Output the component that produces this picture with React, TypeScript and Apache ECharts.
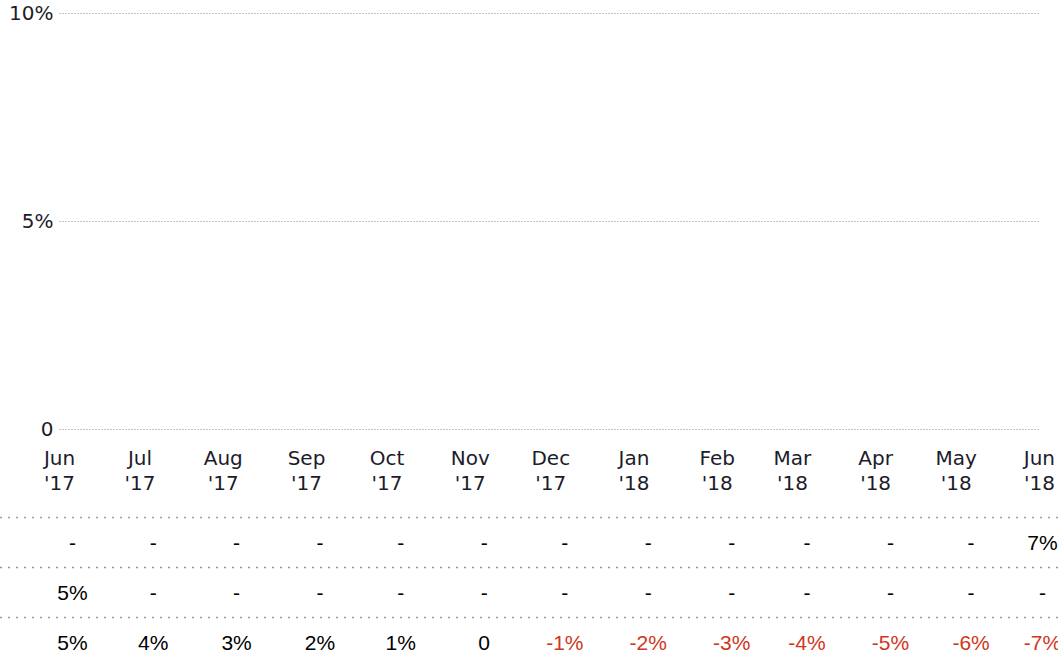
import React, { useEffect, useRef } from "react";
import * as echarts from "echarts";

// Period starts (x positions of the columns / ticks)
const periods = [
  "2017-06-01", "2017-07-01", "2017-08-01", "2017-09-01", "2017-10-01",
  "2017-11-01", "2017-12-01", "2018-01-01", "2018-02-01", "2018-03-01",
  "2018-04-01", "2018-05-01", "2018-06-01",
];
const monthAbbr = ["Jan", "Feb", "Mar", "Apr", "May", "Jun", "Jul", "Aug", "Sep", "Oct", "Nov", "Dec"];

// Y axis ticks (percent)
const yTicks = [0, 5, 10];

// Table rows (null shown as "-")
const rowTop: (number | null)[] = [null, null, null, null, null, null, null, null, null, null, null, null, 7];
const rowMid: (number | null)[] = [5, null, null, null, null, null, null, null, null, null, null, null, null];
const rowBottom: (number | null)[] = [5, 4, 3, 2, 1, 0, -1, -2, -3, -4, -5, -6, -7];

const toTs = (s: string) => {
  const [y, m, d] = s.split("-").map(Number);
  return new Date(y, m - 1, d).getTime();
};

export default function App() {
  const ref = useRef<HTMLDivElement>(null);
  useEffect(() => {
    if (!ref.current) return;
    const chart = echarts.init(ref.current, undefined, { renderer: "svg" });
    const ts = periods.map(toTs);
    const xMin = ts[0];
    const xMax = ts[ts.length - 1];
    const LEFT = 59.5;
    const RIGHT = 16.5;
    const rowTops = [517.5, 567.5, 617.5];
    const rows = [rowTop, rowMid, rowBottom];
    const RED = "#d0361c";

    const fmtCell = (v: number | null) => (v === null ? "-" : v === 0 ? "0" : `${v}%`);

    const tableGrids = rowTops.map((t) => ({ left: LEFT, right: RIGHT, top: t, height: 50 }));
    const tableX = rowTops.map((_, i) => ({
      type: "time",
      gridIndex: i + 1,
      min: xMin,
      max: xMax,
      show: false,
    }));
    const tableY = rowTops.map((_, i) => ({
      type: "value",
      gridIndex: i + 1,
      min: 0,
      max: 1,
      show: false,
    }));
    const tableSeries = rows.map((row, i) => ({
      type: "scatter",
      xAxisIndex: i + 1,
      yAxisIndex: i + 1,
      symbolSize: 2,
      itemStyle: { color: "rgba(0,0,0,0)", opacity: 1 },
      silent: true,
      clip: false,
      data: row.map((v, j) => ({
        value: [ts[j], 0.5],
        label: {
          show: true,
          position: "inside",
          formatter: fmtCell(v),
          color: v !== null && v < 0 ? RED : "#000",
          fontFamily: "Liberation Sans, Arial, sans-serif",
          fontSize: 21,
          offset: [j === row.length - 1 ? 1 : 13, 0],
        },
      })),
    }));

    chart.setOption({
      animation: false,
      backgroundColor: "#fff",
      grid: [{ left: LEFT, right: RIGHT, top: 13, height: 416 }, ...tableGrids],
      xAxis: [
        {
          type: "time",
          gridIndex: 0,
          min: xMin,
          max: xMax,
          splitNumber: 12,
          minInterval: 28 * 86400000,
          maxInterval: 31 * 86400000,
          axisLine: { show: false },
          axisTick: { show: false },
          splitLine: { show: false },
          axisLabel: {
            interval: 0,
            showMinLabel: true,
            showMaxLabel: true,
            hideOverlap: false,
            margin: 16,
            lineHeight: 25,
            color: "#1c1c2a",
            fontFamily: "DejaVu Sans, Verdana, sans-serif",
            fontSize: 20,
            formatter: (val: number) => {
              const d = new Date(val);
              return `${monthAbbr[d.getMonth()]}\n'${String(d.getFullYear()).slice(2)}`;
            },
          },
        },
        ...tableX,
      ],
      yAxis: [
        {
          type: "value",
          gridIndex: 0,
          min: yTicks[0],
          max: yTicks[yTicks.length - 1],
          interval: yTicks[1] - yTicks[0],
          axisLine: { show: false },
          axisTick: { show: false },
          axisLabel: {
            margin: 6,
            color: "#1c1c2a",
            fontFamily: "DejaVu Sans, Verdana, sans-serif",
            fontSize: 20,
            formatter: (v: number) => (v === 0 ? "0" : `${v}%`),
          },
          splitLine: { show: true, lineStyle: { color: "#888", type: [1, 2], width: 1 } },
        },
        ...tableY,
      ],
      graphic: rowTops.map((t) => ({
        type: "line",
        shape: { x1: 0, y1: t, x2: 1058, y2: t },
        silent: true,
        style: { stroke: "#999", lineWidth: 1.5, lineDash: [2, 6] },
      })),
      series: [
        { type: "line", xAxisIndex: 0, yAxisIndex: 0, data: [], silent: true },
        ...tableSeries,
      ],
    });
    return () => chart.dispose();
  }, []);
  return (
    <div
      ref={ref}
      style={{ position: "fixed", left: 0, top: 0, width: 1058, height: 667, background: "#fff" }}
    />
  );
}
